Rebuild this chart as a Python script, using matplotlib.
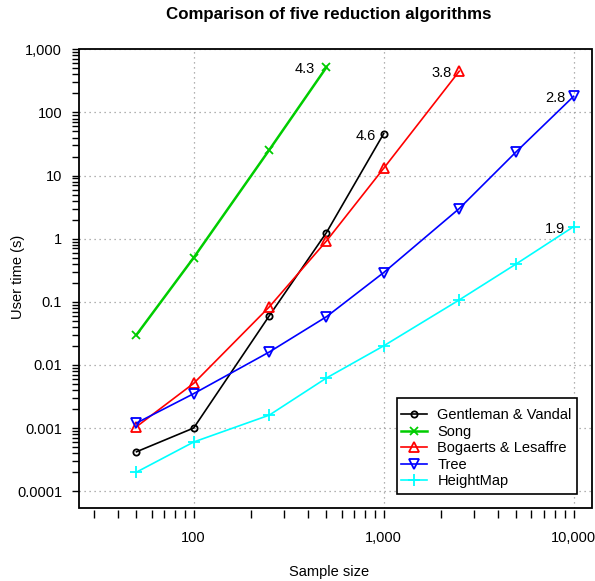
import matplotlib
matplotlib.use("Agg")
import matplotlib.pyplot as plt
from matplotlib.patches import Rectangle

plt.rcParams["font.family"] = ["Liberation Sans", "DejaVu Sans"]

# data
gv_n = [50, 100, 250, 500, 1000]
gv_t = [0.00042, 0.001, 0.06, 1.25, 46]

song_n = [50, 100, 250, 500]
song_t = [0.03, 0.5, 25.5, 520]

bl_n = [50, 100, 250, 500, 1000, 2500]
bl_t = [0.00105, 0.0051, 0.083, 0.92, 13, 450]

tree_n = [50, 100, 250, 500, 1000, 2500, 5000, 10000]
tree_t = [0.0012, 0.0035, 0.016, 0.058, 0.29, 3.0, 24, 180]

hm_n = [50, 100, 250, 500, 1000, 2500, 5000, 10000]
hm_t = [0.0002, 0.0006, 0.0016, 0.0062, 0.02, 0.107, 0.4, 1.55]

names = ["Gentleman & Vandal", "Song", "Bogaerts & Lesaffre", "Tree", "HeightMap"]
slopes = ["4.6", "4.3", "3.8", "2.8", "1.9"]

x_major = [100, 1000, 10000]
x_labels = ["100", "1,000", "10,000"]
y_major = [1e-4, 1e-3, 1e-2, 1e-1, 1, 10, 100, 1000]
y_labels = ["0.0001", "0.001", "0.01", "0.1", "1", "10", "100", "1,000"]

fig = plt.figure(figsize=(5.95, 5.81), dpi=100)
ax = fig.add_axes([0.1333, 0.1265, 0.8617, 0.7886])
ax.set_xscale("log")
ax.set_yscale("log")
ax.set_xlim(25, 12500)
ax.set_ylim(5.5e-5, 1000)

# colour, marker, marker size, line width, label x offset (px)
styles = [
    ("black", "o", 4.5, 1.2, -8),
    ("#00CD00", "x", 6, 1.8, -12),
    ("red", "^", 6.5, 1.2, -8),
    ("blue", "v", 6.5, 1.2, -8),
    ("cyan", "+", 8, 1.2, -8),
]
data = [(gv_n, gv_t), (song_n, song_t), (bl_n, bl_t), (tree_n, tree_t), (hm_n, hm_t)]
for (n, t), (col, mk, ms, lw, dx), name, s in zip(data, styles, names, slopes):
    ax.plot(n, t, color=col, marker=mk, ms=ms, lw=lw, mew=1.3,
            mfc="none", label=name, zorder=3)
    ax.annotate(s, (n[-1], t[-1]), xytext=(dx, -2), textcoords="offset pixels",
                ha="right", va="center", fontsize=10.5)

# ticks
ax.set_xticks(x_major, x_labels)
ax.set_yticks(y_major, y_labels)
x_minor = [m * d for d in (10, 100, 1000) for m in range(2, 10) if m * d >= 30]
y_minor = [m * 10.0 ** e for e in range(-4, 3) for m in range(2, 10)]
ax.set_xticks(x_minor, minor=True)
ax.set_yticks(y_minor, minor=True)
ax.xaxis.set_minor_formatter(plt.NullFormatter())
ax.yaxis.set_minor_formatter(plt.NullFormatter())
ax.tick_params(axis="x", which="both", direction="out", length=5.8, width=1,
               pad=9, labelsize=10.5)
ax.tick_params(axis="y", which="both", direction="out", length=5.4, width=1,
               pad=7, labelsize=10.5)

for sp in ax.spines.values():
    sp.set_visible(False)
ax.spines["bottom"].set_position(("outward", 2))
ax.add_patch(Rectangle((0, 0), 1, 1, transform=ax.transAxes, fill=False,
                       lw=1.3, edgecolor="black", clip_on=False, zorder=5))

ax.grid(True, which="major", color="0.6", linestyle=(0, (1, 3)), lw=0.9)

# legend with a hand-drawn frame (R-style padding)
ax.add_patch(Rectangle((397 / 595, 1 - 494 / 581), 180 / 595, 96 / 581,
                       transform=fig.transFigure, facecolor="white",
                       edgecolor="black", lw=1.2, clip_on=False, zorder=6))
leg = ax.legend(loc="upper left", bbox_to_anchor=(401 / 595, 1 - 408 / 581),
                bbox_transform=fig.transFigure, borderaxespad=0, borderpad=0,
                fontsize=10.5, handlelength=1.8, handletextpad=0.7,
                labelspacing=0.18, frameon=False)
leg.set_zorder(7)

fig.text(329 / 595, 1 - 15 / 581, "Comparison of five reduction algorithms",
         ha="center", va="center", fontsize=12.2, fontweight="bold")
fig.text(329 / 595, 1 - 572 / 581, "Sample size", ha="center", va="center",
         fontsize=10.5)
fig.text(18 / 595, 1 - 277 / 581, "User time (s)", ha="center", va="center",
         rotation=90, fontsize=10.5)

fig.savefig("out.png", dpi=100)
